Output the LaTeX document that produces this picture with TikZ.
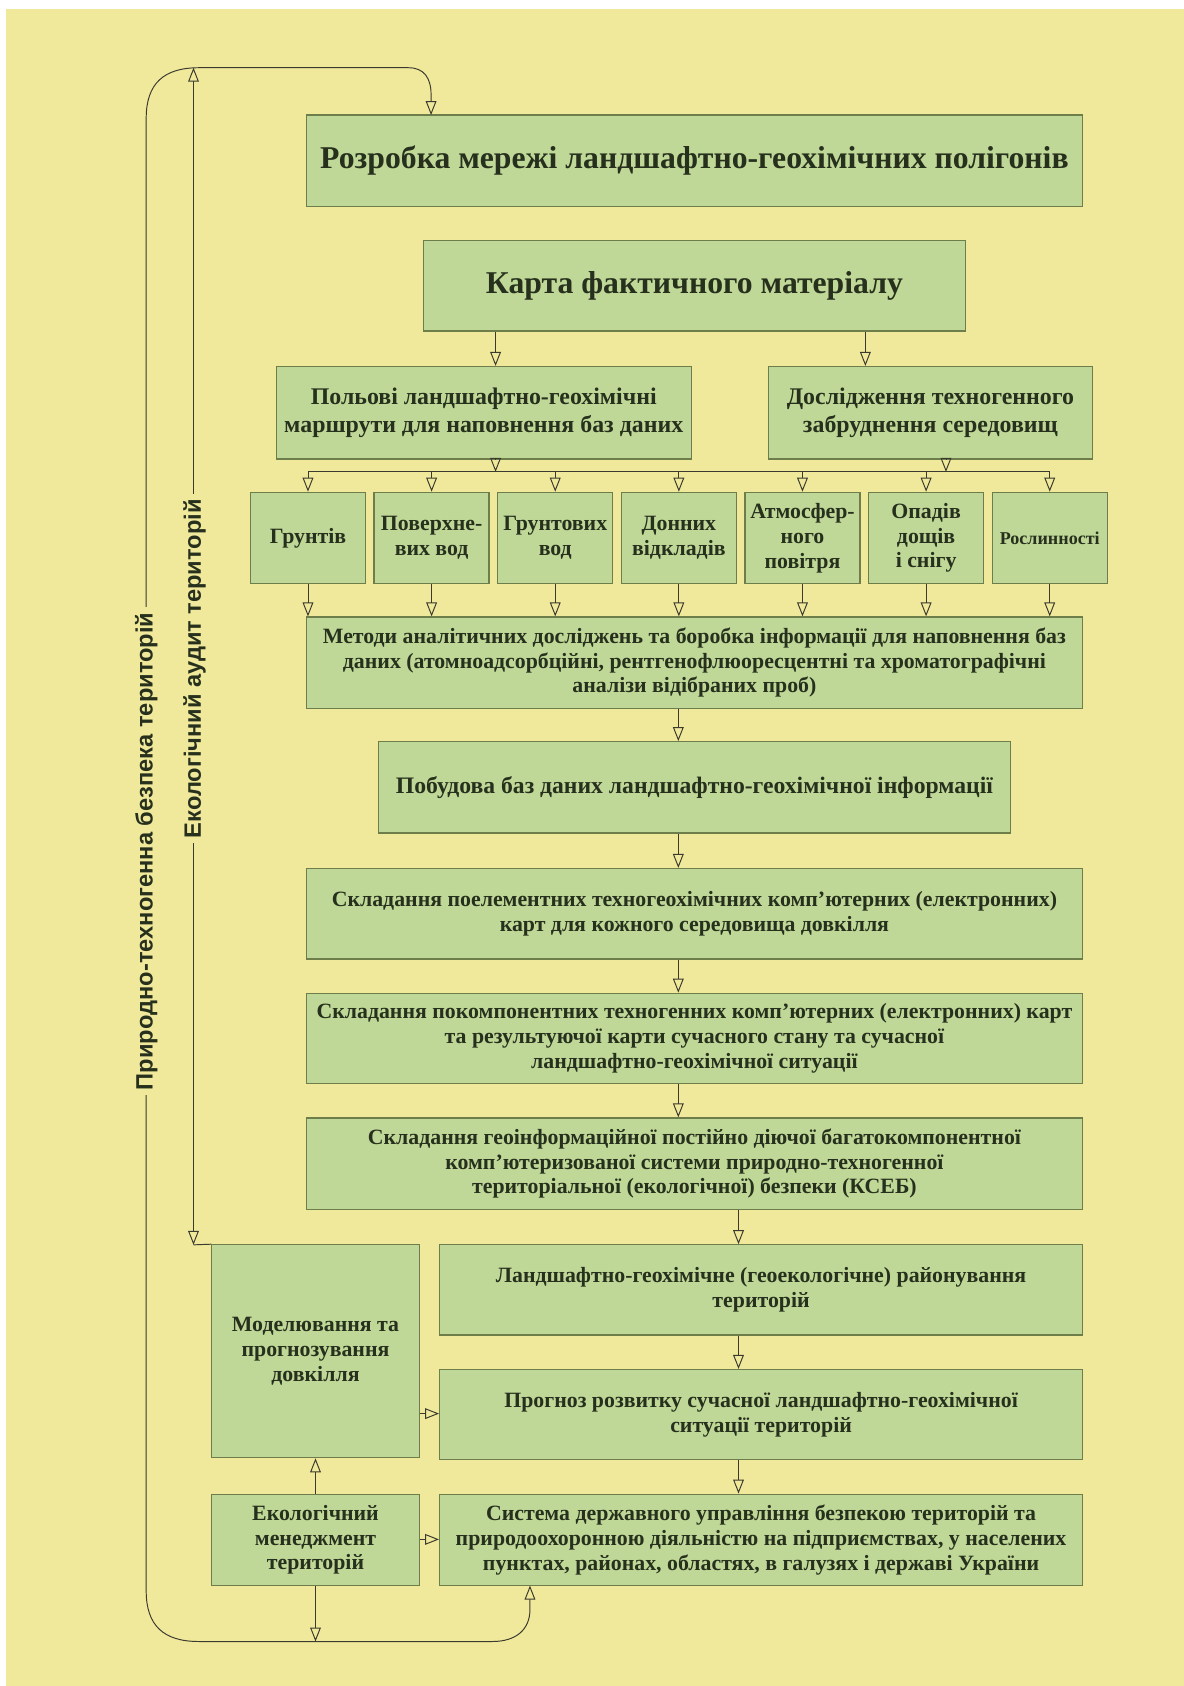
\documentclass[tikz,border=0pt]{standalone}
\usepackage{fontspec}
\setmainfont{Liberation Serif}
\setsansfont{Liberation Sans}
\usetikzlibrary{arrows.meta}
\definecolor{bgy}{HTML}{F0E89B}
\definecolor{boxg}{HTML}{BFD898}
\definecolor{boxb}{HTML}{6E7E4A}
\definecolor{txt}{HTML}{26301C}
\definecolor{ln}{HTML}{3A3A2E}
\begin{document}
\begin{tikzpicture}[x=1pt,y=-1pt,
  box/.style={draw=boxb, line width=1.2pt, fill=boxg, text=txt, align=center, inner sep=0pt,
    font=\bfseries\fontsize{20.3}{23}\selectfont},
  bigtxt/.style={font=\bfseries\fontsize{29.5}{34}\selectfont},
  midtxt/.style={font=\bfseries\fontsize{22.2}{26}\selectfont},
  smallbox/.style={box, minimum width=107pt, minimum height=85pt},
  widebox/.style={box, minimum width=722pt, minimum height=85pt},
  rightbox/.style={box, minimum width=598pt, minimum height=85pt},
  leftbox/.style={box, minimum width=193pt},
  arr/.style={draw=ln, line width=0.9pt, -{Triangle[open,length=13pt,width=10pt]}},
  dblarr/.style={draw=ln, line width=0.9pt, {Triangle[open,length=13pt,width=10pt]}-{Triangle[open,length=13pt,width=10pt]}},
  plain/.style={draw=ln, line width=0.9pt},
  vlabel/.style={rotate=90, fill=bgy, text=txt, inner sep=5pt, font=\sffamily\bfseries\fontsize{22}{25}\selectfont}
]
\useasboundingbox (0,0) rectangle (1101.4,1568.4);
\fill[white] (0,0) rectangle (1101.4,1568.4);
\fill[bgy] (5.6,8.4) rectangle (1101.4,1568.4);

% main column
\node[box, bigtxt, minimum width=722pt, minimum height=85pt] (A) at (646,149.5)
  {Розробка мережі ландшафтно-геохімічних полігонів};
\node[box, bigtxt, minimum width=504pt, minimum height=84pt] (B) at (646,266)
  {Карта фактичного матеріалу};
\node[box, midtxt, minimum width=386pt, minimum height=86pt] (C) at (450,384)
  {Польові ландшафтно-геохімічні\\маршрути для наповнення баз даних};
\node[box, midtxt, minimum width=301pt, minimum height=86pt] (D) at (865.5,384)
  {Дослідження техногенного\\забруднення середовищ};

\node[smallbox] (s1) at (286.5,500.5) {Грунтів};
\node[smallbox] (s2) at (401.5,500.5) {Поверхне-\\вих вод};
\node[smallbox] (s3) at (516.5,500.5) {Грунтових\\вод};
\node[smallbox] (s4) at (631.5,500.5) {Донних\\відкладів};
\node[smallbox] (s5) at (746.5,500.5) {Атмосфер-\\ного\\повітря};
\node[smallbox] (s6) at (861.5,500.5) {Опадів\\дощів\\і снігу};
\node[smallbox, font=\bfseries\fontsize{16.8}{19}\selectfont] (s7) at (976.5,500.5) {Рослинності};

\node[widebox] (F) at (646,616.5)
  {Методи аналітичних досліджень та боробка інформації для наповнення баз\\даних (атомноадсорбційні, рентгенофлюоресцентні та хроматографічні\\аналізи відібраних проб)};
\node[box, font=\bfseries\fontsize{22}{24}\selectfont, minimum width=588pt, minimum height=85pt] (G) at (646,732.5)
  {Побудова баз даних ландшафтно-геохімічної інформації};
\node[widebox, minimum height=84pt] (H) at (646,850)
  {Складання поелементних техногеохімічних комп’ютерних (електронних)\\карт для кожного середовища довкілля};
\node[widebox, minimum height=84pt] (I) at (646,966)
  {Складання покомпонентних техногенних комп’ютерних (електронних) карт\\та результуючої карти сучасного стану та сучасної\\ландшафтно-геохімічної ситуації};
\node[widebox] (J) at (646,1082.5)
  {Складання геоінформаційної постійно діючої багатокомпонентної\\комп’ютеризованої системи природно-техногенної\\територіальної (екологічної) безпеки (КСЕБ)};
\node[rightbox, minimum height=84pt] (K) at (708,1200)
  {Ландшафтно-геохімічне (геоекологічне) районування\\територій};
\node[rightbox, minimum height=84pt] (L) at (708,1316)
  {Прогноз розвитку сучасної ландшафтно-геохімічної\\ситуації територій};
\node[rightbox] (M) at (708,1432.5)
  {Система державного управління безпекою територій та\\природоохоронною діяльністю на підприємствах, у населених\\пунктах, районах, областях, в галузях і державі України};
\node[leftbox, minimum height=198pt] (N) at (293.5,1257)
  {Моделювання та\\прогнозування\\довкілля};
\node[leftbox, minimum height=85pt] (O) at (293.5,1432.5)
  {Екологічний\\менеджмент\\територій};

% helper coordinates
\coordinate (bus) at (0,439);
\coordinate (xa) at (461,0);
\coordinate (xb) at (805,0);
\coordinate (xd) at (880,0);
\coordinate (xm) at (631,0);
\coordinate (xr) at (687,0);
\coordinate (busL) at (286.5,439);
\coordinate (busR) at (976.5,439);
\coordinate (yNL) at (0,1315);
\coordinate (yOM) at (0,1432);
\coordinate (bot) at (293.5,1527);
\coordinate (innerTop) at (180,63);
\coordinate (innerBot) at (180,1158);

% connectors
\draw[arr] (xa |- B.south) -- (xa |- C.north);
\draw[arr] (xb |- B.south) -- (xb |- D.north);
\draw[arr] (xa |- C.south) -- (xa |- bus);
\draw[arr] (xd |- D.south) -- (xd |- bus);
\draw[plain] (busL) -- (busR);
\foreach \s in {s1,s2,s3,s4,s5,s6,s7} {
  \draw[arr] (\s |- bus) -- (\s.north);
  \draw[arr] (\s.south) -- (\s |- F.north);
}
\draw[arr] (xm |- F.south) -- (xm |- G.north);
\draw[arr] (xm |- G.south) -- (xm |- H.north);
\draw[arr] (xm |- H.south) -- (xm |- I.north);
\draw[arr] (xm |- I.south) -- (xm |- J.north);
\draw[arr] (xr |- J.south) -- (xr |- K.north);
\draw[arr] (xr |- K.south) -- (xr |- L.north);
\draw[arr] (xr |- L.south) -- (xr |- M.north);
\draw[arr] (N.east |- yNL) -- (L.west |- yNL);
\draw[arr] (O.east |- yOM) -- (M.west |- yOM);
\draw[arr] (O.north) -- (N.south);
\draw[arr] (O.south) -- (bot);

% outer loop
\draw[dblarr] (493,1475) -- (493,1497) .. controls (493,1516) and (480,1527) .. (458,1527)
  -- (185,1527) .. controls (152,1527) and (136,1512) .. (136,1480)
  -- (136,110) .. controls (136,78) and (152,63) .. (185,63)
  -- (380,63) .. controls (394,63) and (401,72) .. (401,88) -- (401,107);
% inner line
\draw[dblarr] (innerBot) -- (innerTop);
\draw[plain] (innerBot) -- (N.north west);

% labels
\node[vlabel] (lab1) at (136,792) {Природно-техногенна безпека територій};
\node[vlabel] (lab2) at (181,622) {Екологічний аудит територій};
\end{tikzpicture}
\end{document}
